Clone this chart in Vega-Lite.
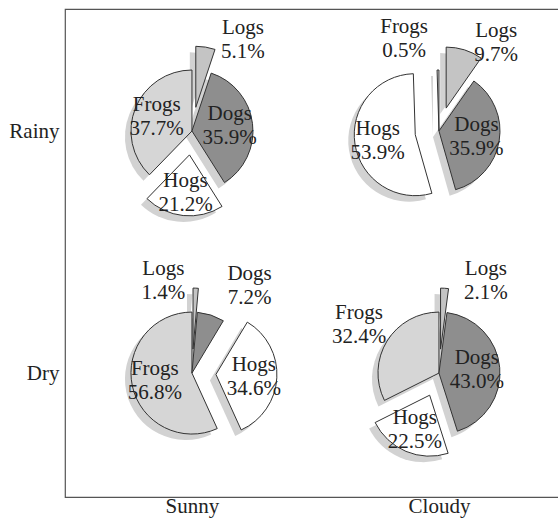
{
  "$schema": "https://vega.github.io/schema/vega-lite/v6.json",
  "width": 495,
  "height": 488,
  "autosize": "none",
  "padding": {"left": 65, "top": 9, "right": 0, "bottom": 23},
  "background": "white",
  "config": {
    "view": {"stroke": "#555", "strokeWidth": 1.2},
    "axis": {
      "domain": false, "grid": false, "title": null, "ticks": false,
      "labelFont": "Liberation Serif", "labelFontSize": 21, "labelColor": "#222"
    }
  },
  "data": {"values": [
    {"weather": "Rainy", "sky": "Sunny", "animal": "Frogs", "pct": 37.7},
    {"weather": "Rainy", "sky": "Sunny", "animal": "Hogs", "pct": 21.2},
    {"weather": "Rainy", "sky": "Sunny", "animal": "Dogs", "pct": 35.9},
    {"weather": "Rainy", "sky": "Sunny", "animal": "Logs", "pct": 5.1},
    {"weather": "Rainy", "sky": "Cloudy", "animal": "Frogs", "pct": 0.5},
    {"weather": "Rainy", "sky": "Cloudy", "animal": "Hogs", "pct": 53.9},
    {"weather": "Rainy", "sky": "Cloudy", "animal": "Dogs", "pct": 35.9},
    {"weather": "Rainy", "sky": "Cloudy", "animal": "Logs", "pct": 9.7},
    {"weather": "Dry", "sky": "Sunny", "animal": "Frogs", "pct": 56.8},
    {"weather": "Dry", "sky": "Sunny", "animal": "Hogs", "pct": 34.6},
    {"weather": "Dry", "sky": "Sunny", "animal": "Dogs", "pct": 7.2},
    {"weather": "Dry", "sky": "Sunny", "animal": "Logs", "pct": 1.4},
    {"weather": "Dry", "sky": "Cloudy", "animal": "Frogs", "pct": 32.4},
    {"weather": "Dry", "sky": "Cloudy", "animal": "Hogs", "pct": 22.5},
    {"weather": "Dry", "sky": "Cloudy", "animal": "Dogs", "pct": 43.0},
    {"weather": "Dry", "sky": "Cloudy", "animal": "Logs", "pct": 2.1}
  ]},
  "transform": [
    {"calculate": "datum.sky === 'Sunny' ? 0 : 1", "as": "col"},
    {"calculate": "datum.weather === 'Rainy' ? 0 : 1", "as": "row"},
    {"calculate": "indexof(['Frogs','Hogs','Dogs','Logs'], datum.animal)", "as": "ord"},
    {"joinaggregate": [{"op": "sum", "field": "pct", "as": "total"}], "groupby": ["weather", "sky"]},
    {"window": [{"op": "sum", "field": "pct", "as": "cum"}], "sort": [{"field": "ord", "order": "ascending"}], "groupby": ["weather", "sky"], "frame": [null, 0]},
    {"calculate": "(datum.cum - datum.pct) / datum.total", "as": "f0"},
    {"calculate": "datum.cum / datum.total", "as": "f1"},
    {"calculate": "-2 * PI * datum.f0", "as": "a0"},
    {"calculate": "-2 * PI * datum.f1", "as": "a1"},
    {"calculate": "PI / 2 + PI * (datum.f0 + datum.f1)", "as": "mid"},
    {"calculate": "(datum.animal === 'Hogs' || datum.animal === 'Logs') ? 24 : 0", "as": "ex"},
    {"calculate": "datum.col + datum.ex * cos(datum.mid) / 247", "as": "cx"},
    {"calculate": "datum.row - datum.ex * sin(datum.mid) / 242", "as": "cy"},
    {"calculate": "datum.pct < 15 || (datum.weather === 'Dry' && datum.sky === 'Cloudy' && datum.animal === 'Frogs')", "as": "out"},
    {"calculate": "datum.out ? (88 * cos(datum.mid) + (cos(datum.mid) > 0.05 ? 44 : -34) * (1 - abs(cos(datum.mid)))) : (datum.ex + 38) * cos(datum.mid)", "as": "lxp"},
    {"calculate": "(datum.out ? (-92 * sin(datum.mid)) : -(datum.ex + 38) * sin(datum.mid)) - 12", "as": "lyp"},
    {"calculate": "datum.col + datum.lxp / 247", "as": "lx"},
    {"calculate": "datum.row + datum.lyp / 242", "as": "ly"},
    {"calculate": "datum.animal + '\\n' + format(datum.pct, '.1f') + '%'", "as": "label"}
  ],
  "layer": [
    {
      "mark": {"type": "arc", "outerRadius": 61, "fill": "#d2d2d2", "xOffset": -6, "yOffset": 6},
      "encoding": {
        "x": {"field": "cx", "type": "quantitative", "scale": {"domain": [-0.514, 1.49], "nice": false, "zero": false},
              "axis": {"values": [0, 1], "labelPadding": -2, "labelExpr": "datum.value == 0 ? 'Sunny' : 'Cloudy'"}},
        "y": {"field": "cy", "type": "quantitative", "scale": {"domain": [-0.504, 1.512], "nice": false, "zero": false, "reverse": true},
              "axis": {"values": [0, 1], "labelPadding": 6, "labelExpr": "datum.value == 0 ? 'Rainy' : 'Dry'"}},
        "theta": {"field": "a0", "type": "quantitative", "scale": null, "stack": null},
        "theta2": {"field": "a1"}
      }
    },
    {
      "mark": {"type": "arc", "outerRadius": 61, "stroke": "#333", "strokeWidth": 1},
      "encoding": {
        "x": {"field": "cx", "type": "quantitative"},
        "y": {"field": "cy", "type": "quantitative"},
        "theta": {"field": "a0", "type": "quantitative", "scale": null, "stack": null},
        "theta2": {"field": "a1"},
        "color": {"field": "animal", "type": "nominal", "legend": null,
                  "scale": {"domain": ["Frogs", "Hogs", "Dogs", "Logs"], "range": ["#d6d6d6", "#ffffff", "#8e8e8e", "#c4c4c4"]}}
      }
    },
    {
      "mark": {"type": "text", "font": "Liberation Serif", "fontSize": 21, "lineHeight": 24, "align": "center", "baseline": "middle", "color": "#222", "lineBreak": "\n"},
      "encoding": {
        "x": {"field": "lx", "type": "quantitative"},
        "y": {"field": "ly", "type": "quantitative"},
        "text": {"field": "label"}
      }
    }
  ]
}
